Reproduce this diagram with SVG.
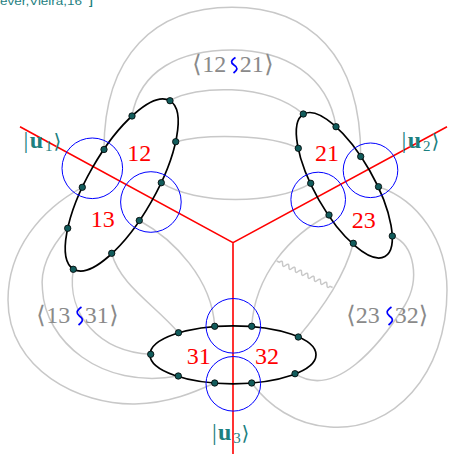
<svg xmlns="http://www.w3.org/2000/svg" width="453" height="454" viewBox="0 0 453 454">
<style>
.g{fill:none;stroke:#c8c8c8;stroke-width:1.5}
.el{fill:none;stroke:#000;stroke-width:1.7}
.bc{fill:none;stroke:#0000ff;stroke-width:1}
.rl{fill:none;stroke:#ff0000;stroke-width:1.6}
.num{font-family:'Liberation Serif','DejaVu Serif',serif;font-size:24px;fill:#ff0000;text-anchor:middle}
.lab{font-family:'Liberation Serif','DejaVu Sans',serif;font-size:24px;fill:#8a8a8a;text-anchor:middle}
.ket{font-family:'Liberation Serif','DejaVu Sans',serif;font-size:24px;fill:#1c8080}
.sq{fill:none;stroke:#0000ff;stroke-width:1.7}
</style>
<defs>
<circle id="d" r="3.2" fill="#125c5c" stroke="#000" stroke-width="0.8"/>
</defs>
<text y="5" font-family="'Liberation Sans',sans-serif" font-size="11" fill="#1c8080"><tspan x="0" textLength="82" lengthAdjust="spacingAndGlyphs">ever,Vieira,16</tspan><tspan x="89" font-weight="bold">]</tspan></text>
<g id="connectors">
<path class="g" d="M104,149.5 C104,55 155,7.3 232,7.3 C309,7.3 361,55 360.7,156.5"/>
<path class="g" d="M132,116 C140,70 180,50 232,50 C284,50 328,75 336,126.7"/>
<path class="g" d="M170,100.7 C195,86 265,82 303.3,114"/>
<path class="g" d="M175.7,141.7 C205,134 270,134 298.3,148.3"/>
<path class="g" d="M161.3,182.7 C195,205 275,205 310.7,183.3"/>
<path class="g" d="M139.3,220.5 C175,240 212,280 214.7,326.3"/>
<path class="g" d="M111.7,253.3 C120,285 155,305 178.5,332.7"/>
<path class="g" d="M73.3,269.3 C66,315 100,352 150.7,354.3"/>
<path class="g" d="M67.7,228.3 C48,250 40,270 42.5,290 C45,340 100,390 178.3,376"/>
<path class="g" d="M82.3,187.3 C40,210 8,250 8,300 C8,370 80,405 135,404 C170,403 195,392 214.7,383"/>
<path class="g" d="M329,215 C290,235 255,275 251.7,326.3"/>
<path class="g" d="M353.3,243.3 C345,275 325,305 298.3,337"/>
<path class="g" d="M392.3,236 C415,245 420,280 405,305 C380,345 335,400 295,373.7"/>
<path class="g" d="M378.5,186.7 C418,200 447,240 447,290 C447,375 393,432 330,427 C295,425 268,405 251.7,383"/>
<path class="g" stroke-width="1.2" d="M276.7,261 l2.7,1.3 q3.29,-2.87 3.17,1.5 t3.17,1.5 t3.17,1.5 t3.17,1.5 t3.17,1.5 t3.17,1.5 t3.17,1.5 t3.17,1.5 t3.17,1.5 t3.17,1.5 t3.17,1.5 t3.17,1.5 t3.17,1.5 t3.17,1.5 t3.17,1.5 t3.17,1.5 l2.5,1.2"/>
</g>
<g id="axes">
<path class="rl" d="M20,126.7 L233,242.7 L447,126.7 M233,242.7 L233,454"/>
</g>
<g id="node1">
<ellipse class="el" cx="121.7" cy="185" rx="97" ry="34" transform="rotate(-60.3 121.7 185)"/>
<circle class="bc" cx="92.3" cy="168.3" r="30.3"/>
<circle class="bc" cx="150.9" cy="202" r="30.3"/>
<use href="#d" x="170" y="100.7"/><use href="#d" x="132" y="116"/><use href="#d" x="175.7" y="141.7"/><use href="#d" x="104" y="149.5"/><use href="#d" x="161.3" y="182.7"/><use href="#d" x="82.3" y="187.3"/><use href="#d" x="139.3" y="220.5"/><use href="#d" x="67.7" y="228.3"/><use href="#d" x="111.7" y="253.3"/><use href="#d" x="73.3" y="269.3"/>
<text class="num" x="139.3" y="160.5">12</text>
<text class="num" x="102.7" y="226.7">13</text>
</g>
<g id="node2">
<ellipse class="el" cx="344.3" cy="185.3" rx="82" ry="29.3" transform="rotate(60.3 344.3 185.3)"/>
<circle class="bc" cx="370.5" cy="170.3" r="27.3"/>
<circle class="bc" cx="318.2" cy="199.5" r="27.3"/>
<use href="#d" x="303.3" y="114"/><use href="#d" x="336" y="126.7"/><use href="#d" x="298.3" y="148.3"/><use href="#d" x="360.7" y="156.5"/><use href="#d" x="310.7" y="183.3"/><use href="#d" x="378.5" y="186.7"/><use href="#d" x="329" y="215"/><use href="#d" x="392.3" y="236"/><use href="#d" x="353.3" y="243.3"/>
<text class="num" x="327" y="160.5">21</text>
<text class="num" x="363.7" y="227.5">23</text>
</g>
<g id="node3">
<ellipse class="el" cx="233" cy="354.8" rx="83" ry="29"/>
<circle class="bc" cx="233.3" cy="325.8" r="27.3"/>
<circle class="bc" cx="233.3" cy="383.8" r="27.3"/>
<use href="#d" x="178.5" y="332.7"/><use href="#d" x="214.7" y="326.3"/><use href="#d" x="251.7" y="326.3"/><use href="#d" x="298.3" y="337"/><use href="#d" x="150.7" y="354.3"/><use href="#d" x="178.3" y="376"/><use href="#d" x="214.7" y="383"/><use href="#d" x="251.7" y="383"/><use href="#d" x="295" y="373.7"/>
<text class="num" x="198.7" y="363.5">31</text>
<text class="num" x="267" y="363.5">32</text>
</g>
<g id="pair12">
<text class="lab" y="71.5"><tspan x="197">⟨</tspan><tspan x="214.2">12</tspan><tspan x="251.7">21</tspan><tspan x="269">⟩</tspan></text>
<path class="sq" d="M235.5,57.5 C230.5,61 230.5,62.5 234,65 C238,67.5 238,69.5 233.5,73"/>
</g>
<g id="pair13">
<text class="lab" y="322.7"><tspan x="41">⟨</tspan><tspan x="58.3">13</tspan><tspan x="96.7">31</tspan><tspan x="114">⟩</tspan></text>
<path class="sq" d="M81.5,307 C76,311 76,313 79.5,316 C83.5,319 83.5,321 78.5,325"/>
</g>
<g id="pair23">
<text class="lab" y="322.7"><tspan x="351">⟨</tspan><tspan x="367.8">23</tspan><tspan x="406.7">32</tspan><tspan x="423.5">⟩</tspan></text>
<path class="sq" d="M391.5,307 C386,311 386,313 389.5,316 C393.5,319 393.5,321 388.5,325"/>
</g>
<g id="ket1">
<text class="ket" y="148"><tspan x="23.5">|</tspan><tspan x="29.8" font-weight="bold">u</tspan><tspan x="45" dy="3" font-size="15">1</tspan><tspan x="53.5" dy="-3" font-family="'DejaVu Sans',sans-serif" font-size="20">⟩</tspan></text>
</g>
<g id="ket2">
<text class="ket" y="148"><tspan x="401.5">|</tspan><tspan x="407.8" font-weight="bold">u</tspan><tspan x="423" dy="3" font-size="15">2</tspan><tspan x="431.5" dy="-3" font-family="'DejaVu Sans',sans-serif" font-size="20">⟩</tspan></text>
</g>
<g id="ket3">
<text class="ket" y="440"><tspan x="212">|</tspan><tspan x="218" font-weight="bold">u</tspan><tspan x="233.3" dy="3" font-size="15">3</tspan><tspan x="241.5" dy="-3" font-family="'DejaVu Sans',sans-serif" font-size="20">⟩</tspan></text>
</g>
</svg>
